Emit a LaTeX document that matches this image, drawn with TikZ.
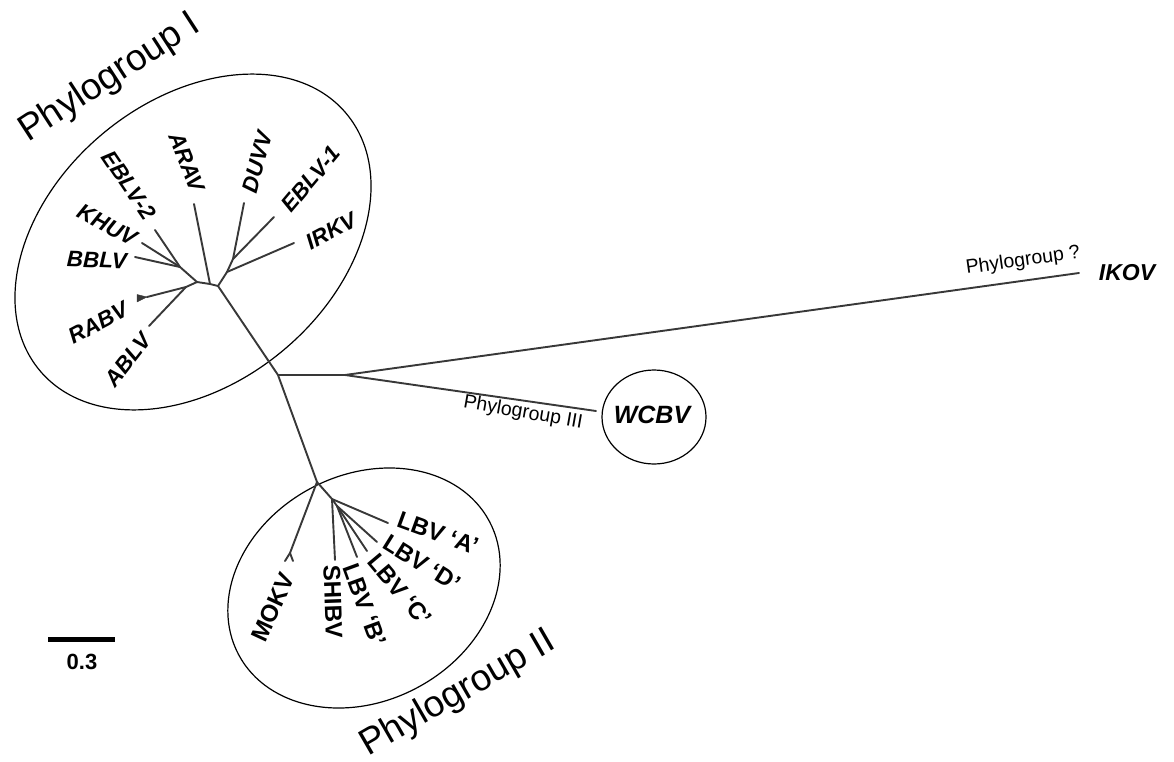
\documentclass[tikz,border=0pt]{standalone}
\usepackage{fontspec}
\setmainfont{Liberation Sans}
\newcommand\fsz[1]{\fontsize{#1}{#1}\selectfont}
\begin{document}
\begin{tikzpicture}[x=1pt,y=-1pt,
  branch/.style={line width=1.9pt, draw=black!78, line cap=round, line join=round},
  hull/.style={line width=1.2pt, draw=black},
  leafI/.style={font=\bfseries\itshape\fsz{22.5}, inner sep=0pt},
  leafII/.style={font=\bfseries\fsz{24}, inner sep=0pt},
  tipname/.style={font=\bfseries\itshape\fsz{23}, inner sep=0pt},
  grouplabel/.style={font=\fsz{37}, inner sep=0pt},
  smalllabel/.style={font=\fsz{19.5}, inner sep=0pt}]
\useasboundingbox (0,0) rectangle (1174,762);

% ---- internal nodes of the tree ----
\coordinate (root)  at (278,375);
\coordinate (fork)  at (345,375);
\coordinate (g1)    at (218,286);
\coordinate (g1a)   at (210,284);
\coordinate (g1l)   at (197,282);
\coordinate (g1e)   at (180,267);
\coordinate (g1r)   at (186,287);
\coordinate (g1u)   at (227,272);
\coordinate (g1d)   at (233,259);
\coordinate (g2)    at (317,482);
\coordinate (g2a)   at (332,499);
\coordinate (g2b)   at (337,506);
\coordinate (g2m)   at (290,553);

% ---- branch tips ----
\coordinate (tEBLVb) at (155,230);
\coordinate (tKHUV)  at (142,243);
\coordinate (tBBLV)  at (135,257);
\coordinate (tRABV)  at (147,297);
\coordinate (tABLV)  at (149,326);
\coordinate (tARAV)  at (194,204);
\coordinate (tDUVV)  at (244,203);
\coordinate (tEBLVa) at (274,217);
\coordinate (tIRKV)  at (294,243);
\coordinate (tMOKa)  at (285,561);
\coordinate (tMOKb)  at (293,561);
\coordinate (tSHIB)  at (335,560);
\coordinate (tLBVB)  at (357,557);
\coordinate (tLBVC)  at (367,551);
\coordinate (tLBVD)  at (377,542);
\coordinate (tLBVA)  at (388,523);
\coordinate (tIKOV)  at (1079,273);
\coordinate (tWCBV)  at (596,411);

% ---- group outlines ----
\coordinate (c1) at (193,242);
\coordinate (c2) at (364,588);
\draw[hull, rotate around={40:(c1)}] (c1) ellipse [x radius=200, y radius=141];
\draw[hull, rotate around={28:(c2)}] (c2) ellipse [x radius=142, y radius=113];

% ---- branches ----
\draw[branch] (g2) -- (root) -- (g1);
\draw[branch] (root) -- (fork) -- (tIKOV);
\draw[branch] (fork) -- (tWCBV);
\draw[branch] (g1) -- (g1a) -- (g1l) -- (g1e);
\draw[branch] (g1a) -- (tARAV);
\draw[branch] (g1e) -- (tEBLVb);
\draw[branch] (g1e) -- (tKHUV);
\draw[branch] (g1e) -- (tBBLV);
\draw[branch] (g1l) -- (g1r) -- (tRABV);
\draw[branch] (g1r) -- (tABLV);
\draw[branch] (g1) -- (g1u) -- (tIRKV);
\draw[branch] (g1u) -- (g1d) -- (tDUVV);
\draw[branch] (g1d) -- (tEBLVa);
% collapsed RABV clade
\draw[black!78, fill=black!78, line join=round] (tRABV) -- ++(-10,-2.5) -- ++(0,7.5) -- cycle;
\draw[branch] (g2) -- (g2m) -- (tMOKa);
\draw[branch] (g2m) -- (tMOKb);
\draw[branch] (g2) -- (g2a) -- (tLBVA);
\draw[branch] (g2a) -- (tSHIB);
\draw[branch] (g2a) -- (g2b) -- (tLBVD);
\draw[branch] (g2b) -- (tLBVC);
\draw[branch] (g2b) -- (tLBVB);

% ---- leaf names, phylogroup I ----
\node[leafI, rotate=-56] (lEBLVb) at (129,185) {EBLV-2};
\node[leafI, rotate=-28] (lKHUV)  at (107,225) {KHUV};
\node[leafI, rotate=-2]  (lBBLV)  at (97,260)  {BBLV};
\node[leafI, rotate=28]  (lRABV)  at (98,323)  {RABV};
\node[leafI, rotate=52]  (lABLV)  at (128,360) {ABLV};
\node[leafI, rotate=-68] (lARAV)  at (187,162) {ARAV};
\node[leafI, rotate=75]  (lDUVV)  at (257,162) {DUVV};
\node[leafI, rotate=50]  (lEBLVa) at (311,179) {EBLV-1};
\node[leafI, rotate=28]  (lIRKV)  at (331,231) {IRKV};

% ---- leaf names, phylogroup II ----
\node[leafII, rotate=65]  (lMOKV) at (273,607) {MOKV};
\node[leafII, rotate=-88] (lSHIB) at (333,602) {SHIBV};
\node[leafII, rotate=-70] (lLBVB) at (365,605) {LBV ‘B’};
\node[leafII, rotate=-50] (lLBVC) at (400,590) {LBV ‘C’};
\node[leafII, rotate=-32] (lLBVD) at (422,563) {LBV ‘D’};
\node[leafII, rotate=-20] (lLBVA) at (438,533) {LBV ‘A’};

% ---- isolated lineages ----
\node[tipname] (lIKOV) at (1127,273) {IKOV};
\coordinate (c3) at (654,417);
\draw[hull] (c3) ellipse [x radius=52, y radius=47];
\node[tipname, font=\bfseries\itshape\fsz{25}] (lWCBV) at (652,415) {WCBV};

% ---- group names ----
\node[grouplabel, rotate=33] (pgI)  at (110,78)  {Phylogroup I};
\node[grouplabel, rotate=30] (pgII) at (458,694) {Phylogroup II};
\node[smalllabel, rotate=-10] (pgIII) at (523,413) {Phylogroup III};
\node[smalllabel, rotate=8]   (pgX)   at (1023,261) {Phylogroup ?};

% ---- scale bar ----
\coordinate (sbL) at (48,639);
\coordinate (sbR) at (115,639);
\draw[line width=5pt] (sbL) -- (sbR);
\node[font=\bfseries\fsz{22}, inner sep=0pt] (sbT) at (82,662) {0.3};
\end{tikzpicture}
\end{document}
